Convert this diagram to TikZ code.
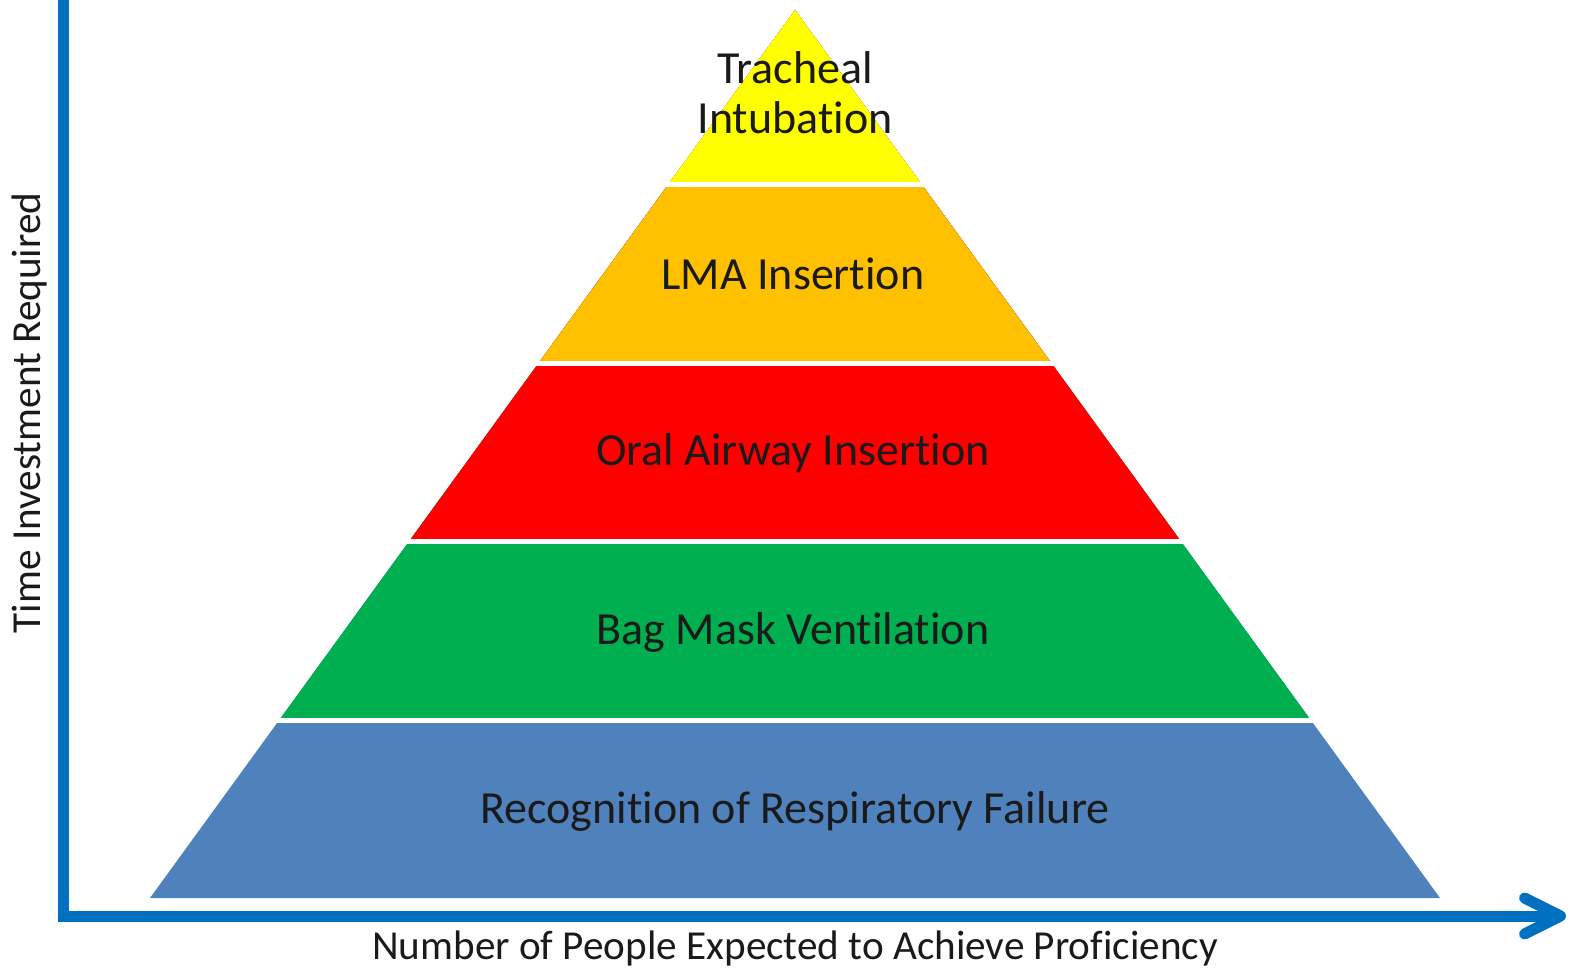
\documentclass[tikz,border=0pt]{standalone}
\usepackage{fontspec}
\setmainfont{Carlito}[Ligatures=NoCommon]
\usepackage{xcolor}
\usetikzlibrary{arrows.meta,calc}
\definecolor{amarillo}{HTML}{FFFF00}
\definecolor{naranja}{HTML}{FFC000}
\definecolor{rojo}{HTML}{FF0000}
\definecolor{verde}{HTML}{00B050}
\definecolor{azul}{HTML}{4F81BD}
\definecolor{eje}{HTML}{0070C0}
\definecolor{tinta}{HTML}{1A1A1A}
\begin{document}
\begin{tikzpicture}[x=0.5pt,y=-0.5pt,
  rotulo/.style={text=tinta,font=\fontsize{23pt}{25pt}\selectfont,align=center,inner sep=0pt},
  ejetxt/.style={text=tinta,font=\fontsize{20.6pt}{24pt}\selectfont,inner sep=0pt},
  hueco/.style={draw=white,line width=2.5pt,shorten <=-2pt,shorten >=-2pt},
  ejeline/.style={draw=eje,line width=5.5pt,-{Straight Barb[length=18pt,width=18pt,line cap=round,line join=round]}}]
\useasboundingbox (0,0) rectangle (1571,968);
% piramide
\coordinate (cima) at (795,10);
\coordinate (izq) at (150,898);
\coordinate (der) at (1440,898);
\fill[azul] (cima) -- (izq) -- (der) -- cycle;
\fill[verde] (cima) -- ($(cima)!0.8!(izq)$) -- ($(cima)!0.8!(der)$) -- cycle;
\fill[rojo] (cima) -- ($(cima)!0.599!(izq)$) -- ($(cima)!0.599!(der)$) -- cycle;
\fill[naranja] (cima) -- ($(cima)!0.398!(izq)$) -- ($(cima)!0.398!(der)$) -- cycle;
\fill[amarillo] (cima) -- ($(cima)!0.197!(izq)$) -- ($(cima)!0.197!(der)$) -- cycle;
\foreach \f in {0.197,0.398,0.599,0.8}
  \draw[hueco] ($(cima)!\f!(izq)$) -- ($(cima)!\f!(der)$);
% rotulos
\node[rotulo] (traq) at (795,93) {Tracheal\\Intubation};
\node[rotulo] (lma) at (793,274) {LMA Insertion};
\node[rotulo] (oral) at (793,453) {Oral Airway Insertion};
\node[rotulo] (bolsa) at (793,632) {Bag Mask Ventilation};
\node[rotulo] (recon) at (795,811) {Recognition of Respiratory Failure};
% ejes
\coordinate (ytop) at (63.5,-6);
\coordinate (orig) at (63.5,916);
\coordinate (xfin) at (1566,916);
\draw[ejeline] (ytop) -- (orig) -- (xfin);
\node[ejetxt,rotate=90] (tiempo) at (30,413) {Time Investment Required};
\node[ejetxt] (gente) at (795,949) {Number of People Expected to Achieve Proficiency};
\end{tikzpicture}
\end{document}
